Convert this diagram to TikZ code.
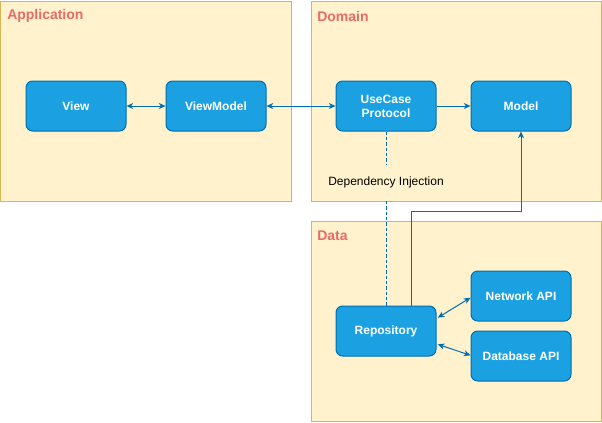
\documentclass[tikz,border=0pt]{standalone}
\usepackage{fontspec}
\setmainfont{Liberation Sans}
\usetikzlibrary{arrows.meta, positioning}
\definecolor{boxfill}{HTML}{1BA1E2}
\definecolor{boxline}{HTML}{006EAF}
\definecolor{layerfill}{HTML}{FFF2CC}
\definecolor{layerline}{HTML}{D6B656}
\definecolor{layertitle}{HTML}{EA6B66}

\tikzset{
  layer/.style={draw=layerline, fill=layerfill, line width=0.75pt,
    minimum width=217.5pt, minimum height=150pt, inner sep=0pt},
  layertext/.style={text=layertitle, font=\fontsize{10.5}{12}\selectfont\bfseries, anchor=west, inner sep=0pt},
  box/.style={draw=boxline, fill=boxfill, line width=0.75pt, rounded corners=5pt,
    minimum width=75pt, minimum height=37.5pt, text=white, align=center,
    font=\fontsize{9}{10.5}\selectfont\bfseries},
  link/.style={color=boxline, line width=0.75pt},
  tip/.tip={Stealth[length=5pt, width=4.5pt, inset=1.5pt]}
}

\begin{document}
\begin{tikzpicture}[x=0.75pt, y=-0.75pt]
  \useasboundingbox (-1,-1) rectangle (601,421);

  % Draw the three layers
  \node[layer] (app) at (145,100) {};
  \node[layer] (dom) at (455,100) {};
  \node[layer] (data) at (455,320) {};
  \node[layertext] (apptitle) at (6,15) {Application};
  \node[layertext] (domtitle) at (316,15) {Domain};
  \node[layertext] (datatitle) at (316,235) {Data};

  % The boxes
  \node[box] (view) at (75,105) {View};
  \node[box] (vm) at (215,105) {ViewModel};
  \node[box] (uc) at (385,105) {UseCase\\Protocol};
  \node[box] (model) at (520,105) {Model};
  \node[box] (repo) at (385,330) {Repository};
  \node[box] (net) at (520,295) {Network API};
  \node[box] (db) at (520,355) {Database API};

  % Dependency injection line and its label
  \draw[link, line width=0.6pt, dash pattern=on 2.5pt off 1.5pt] (uc.south) -- (repo.north);
  \node[fill=layerfill, inner sep=0pt, minimum height=27pt, font=\fontsize{9}{10.5}\selectfont]
    (dilabel) at (385,181.5) {Dependency Injection};

  % Arrows
  \draw[link, tip-tip] (view) -- (vm);
  \draw[link, tip-tip] (vm) -- (uc);
  \draw[link, -tip] (uc) -- (model);
  \coordinate (repoout) at (410,305);
  \coordinate (turn) at (520,210);
  \draw[link, tip-] (model.south) -- (turn) -- (turn -| repoout) -- (repoout);
  \draw[link, tip-tip] ([xshift=1pt, yshift=10pt]repo.east) -- ([yshift=-1.25pt]net.west);
  \draw[link, tip-tip] ([xshift=1pt, yshift=-10pt]repo.east) -- ([yshift=0.5pt]db.west);
\end{tikzpicture}
\end{document}
